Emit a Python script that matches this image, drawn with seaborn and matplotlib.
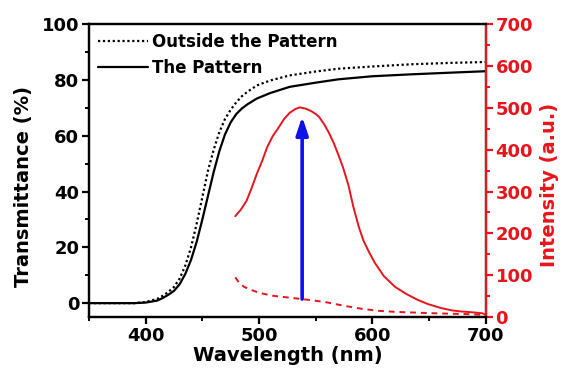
import matplotlib
matplotlib.use("Agg")
import matplotlib.pyplot as plt
import seaborn as sns
from matplotlib.ticker import MultipleLocator

# transmittance spectra (%)
wl_trans = [350, 390, 400, 410, 415, 420, 425, 430, 435, 440, 445, 450, 455, 460, 465,
            470, 475, 480, 485, 490, 498, 510, 527, 550, 570, 600, 635, 670, 700]
trans_pattern = [0, 0, 0.2, 0.9, 1.8, 3, 4.4, 6.8, 10.5, 15.5, 22, 30, 38.5, 47, 54.5,
                 60.5, 64.8, 67.8, 69.8, 71.3, 73.3, 75.3, 77.5, 79, 80.2, 81.3, 82, 82.6, 83.1]
trans_outside = [0, 0, 0.4, 1.5, 2.6, 4, 5.8, 8.8, 13.5, 20, 28.5, 38, 47.5, 55, 61.3,
                 66, 69.3, 72, 74.2, 75.8, 78, 79.8, 81.6, 83, 84, 84.8, 85.6, 86.1, 86.4]

# emission spectra (a.u.)
wl_em = [479, 484, 489, 493, 498, 503, 507, 512, 518, 522, 527, 532, 536, 541, 546,
         550, 553, 558, 562, 566, 570, 574, 579, 583, 588, 592, 597, 602, 610, 620,
         630, 640, 649, 660, 670, 678, 690, 697, 700]
em_pattern = [241, 257, 278, 305, 342, 375, 405, 432, 456, 473, 488, 497, 501, 498, 492,
              485, 478, 458, 438, 415, 387, 358, 313, 265, 215, 183, 155, 130, 98, 72,
              55, 41, 31, 22, 16, 13.5, 11, 9, 5]
wl_em_out = [479, 483, 487, 492, 500, 512, 525, 538, 550, 560, 575, 590, 605, 620,
             635, 650, 670, 685, 700]
em_outside = [95, 80, 72, 66, 58, 51, 47, 43, 39, 35, 27, 20, 15, 12.5,
              11, 9.5, 8, 7, 5]

arrow_wl = 538
arrow_from = 43
arrow_to = 479

sns.set_theme(style="ticks")
plt.rcParams["font.family"] = ["DejaVu Sans"]
plt.rcParams["font.weight"] = "bold"
plt.rcParams["axes.labelweight"] = "bold"
for k in ("text.color", "axes.labelcolor", "xtick.color", "ytick.color", "axes.edgecolor"):
    plt.rcParams[k] = "black"

fig = plt.figure(figsize=(5.63, 3.70), dpi=100)
ax = fig.add_axes([0.158, 0.143, 0.705, 0.792])
ax2 = ax.twinx()

sns.lineplot(x=wl_trans, y=trans_outside, ax=ax, color="black", linestyle=(0, (1, 1.2)),
             linewidth=1.6, label="Outside the Pattern")
sns.lineplot(x=wl_trans, y=trans_pattern, ax=ax, color="black", linewidth=1.6,
             label="The Pattern")

red = "#e8141c"
sns.lineplot(x=wl_em, y=em_pattern, ax=ax2, color=red, linewidth=1.4)
sns.lineplot(x=wl_em_out, y=em_outside, ax=ax2, color=red, linewidth=1.4,
             linestyle=(0, (3, 2.5)))

ax2.annotate("", xy=(arrow_wl, arrow_to), xytext=(arrow_wl, arrow_from),
             arrowprops=dict(arrowstyle="-|>,head_length=0.9,head_width=0.3",
                             color="#1010e8", lw=2.6, shrinkA=0, shrinkB=0))

ax.set_xlim(350, 700)
ax.set_ylim(-5, 100)
ax2.set_ylim(0, 700)

ax.xaxis.set_major_locator(MultipleLocator(100))
ax.xaxis.set_minor_locator(MultipleLocator(50))
ax.yaxis.set_major_locator(MultipleLocator(20))
ax.yaxis.set_minor_locator(MultipleLocator(10))
ax2.yaxis.set_major_locator(MultipleLocator(100))
ax2.yaxis.set_minor_locator(MultipleLocator(50))

for a in (ax, ax2):
    for s in a.spines.values():
        s.set_linewidth(1.6)
        s.set_color("black")
    a.tick_params(which="major", length=5, width=1.6, labelsize=13, direction="out", pad=2)
    a.tick_params(which="minor", length=3, width=1.4, direction="out")
ax2.spines["right"].set_color(red)
ax2.tick_params(axis="y", which="both", colors=red, labelcolor=red)

ax.set_xlabel("Wavelength (nm)", fontsize=14, labelpad=1)
ax.set_ylabel("Transmittance (%)", fontsize=14)
ax2.set_ylabel("Intensity (a.u.)", fontsize=14, color=red)
ax.yaxis.set_label_coords(-0.141, 0.445)
ax2.yaxis.set_label_coords(1.136, 0.45)

for lab in ax.get_xticklabels() + ax.get_yticklabels() + ax2.get_yticklabels():
    lab.set_fontweight("bold")

leg = ax.legend(loc="upper left", frameon=False, fontsize=12, handlelength=3.0,
                borderaxespad=0.15, handletextpad=0.25, labelspacing=0.45)
for t in leg.get_texts():
    t.set_fontweight("bold")

fig.savefig("out.png", dpi=100)
